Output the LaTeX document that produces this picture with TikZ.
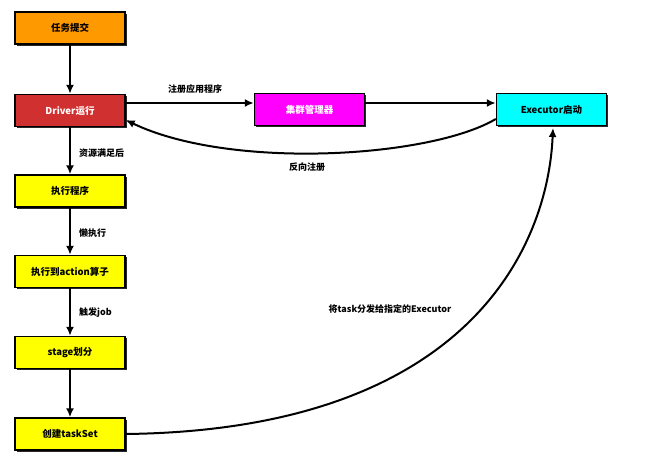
\documentclass[tikz,border=0pt]{standalone}
\usepackage{fontspec}
\setmainfont{Noto Sans CJK SC}
\usetikzlibrary{arrows.meta,shadows}
\definecolor{cOrange}{HTML}{FF9900}
\definecolor{cRed}{HTML}{D0302F}
\definecolor{cMag}{HTML}{FF00FF}
\definecolor{cCyan}{HTML}{00FFFF}
\definecolor{cYel}{HTML}{FFFF00}
\tikzset{
  box/.style={draw=black, line width=1.4pt, minimum width=110pt, minimum height=32pt,
    inner sep=0pt, font=\fontsize{9.5}{11}\selectfont\bfseries,
    drop shadow={shadow xshift=1.8pt, shadow yshift=-1.8pt, fill=black!85, opacity=1}},
  conn/.style={line width=2pt, -{Latex[length=9pt,width=8pt]}},
  lbl/.style={font=\fontsize{9}{11}\selectfont\bfseries, inner sep=0pt}
}
\begin{document}
\begin{tikzpicture}[x=1pt,y=-1pt]
\useasboundingbox (0,0) rectangle (653,460);
\node[box, fill=cOrange] (submit) at (70,28) {任务提交};
\node[box, fill=cRed, text=white] (driver) at (70,110.5) {Driver运行};
\node[box, fill=cMag, text=white] (cluster) at (309.5,109.5) {集群管理器};
\node[box, fill=cCyan] (exec) at (551.5,109.5) {Executor启动};
\node[box, fill=cYel] (run) at (70,191) {执行程序};
\node[box, fill=cYel] (action) at (70,271.5) {执行到action算子};
\node[box, fill=cYel] (stage) at (70,352.5) {stage划分};
\node[box, fill=cYel] (taskset) at (70,434) {创建taskSet};

\draw[conn] (submit) -- (driver);
\draw[conn] (driver) -- (run);
\draw[conn] (run) -- (action);
\draw[conn] (action) -- (stage);
\draw[conn] (stage) -- (taskset);
\draw[conn] (driver.east |- 0,103) -- (cluster.west |- 0,103);
\draw[conn] (cluster.east |- 0,103) -- (exec.west |- 0,103);
\coordinate (eL) at (exec.west |- 0,119);
\coordinate (dR) at (driver.east |- 0,120);
\draw[conn] (eL) .. controls (430,158) and (230,170) .. (dR);
\coordinate (tR) at (taskset.east);
\coordinate (eB) at (553,128);
\draw[conn] (tR) .. controls (470,430) and (548,245) .. (eB);

\node[lbl] (l1) at (195,89) {注册应用程序};
\node[lbl, anchor=west] (l2) at (79,153) {资源满足后};
\node[lbl, anchor=west] (l3) at (79,233) {懒执行};
\node[lbl, anchor=west] (l4) at (79,313) {触发job};
\node[lbl] (l5) at (307,167) {反向注册};
\node[lbl] (l6) at (390,309) {将task分发给指定的Executor};
\end{tikzpicture}
\end{document}
